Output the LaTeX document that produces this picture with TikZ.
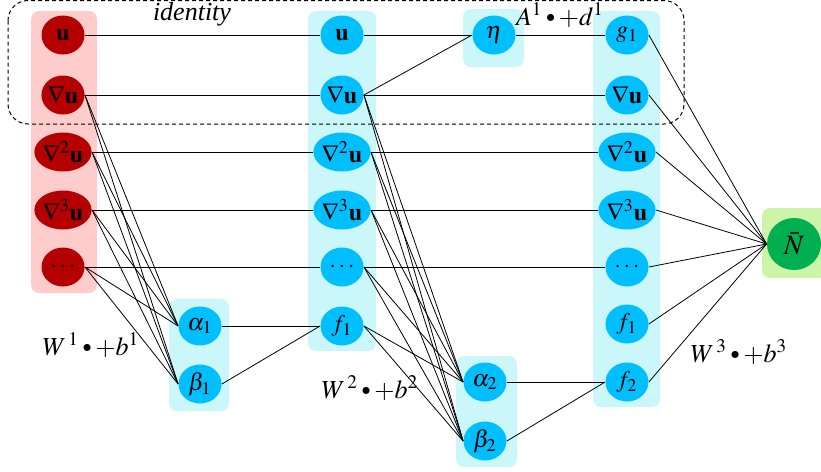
\documentclass[tikz,border=0pt]{standalone}
\usepackage{mathptmx}
\usepackage{graphicx}
\usepackage[no-math]{fontspec}
\setmainfont{Liberation Serif}
\usetikzlibrary{shapes.geometric}
\definecolor{redn}{RGB}{180,0,0}
\definecolor{redbg}{RGB}{255,204,204}
\definecolor{bluen}{RGB}{0,191,255}
\definecolor{bluebg}{RGB}{204,247,250}
\definecolor{greenn}{RGB}{0,176,80}
\definecolor{greenbg}{RGB}{204,245,170}
\newcommand{\smbul}{\mathbin{\vcenter{\hbox{\scalebox{0.7}{$\bullet$}}}}}
\begin{document}
\begin{tikzpicture}[x=0.5pt,y=-0.5pt,
  nd/.style={ellipse, inner sep=0pt, minimum width=21.5pt, minimum height=19.5pt, font=\fontsize{12}{14}\selectfont},
  rn/.style={nd, fill=redn},
  bn/.style={nd, fill=bluen},
  gn/.style={ellipse, inner sep=0pt, minimum width=27pt, minimum height=26pt, fill=greenn, font=\fontsize{14}{16}\selectfont},
  lk/.style={line width=0.4pt, black},
  bgbox/.style={rounded corners=4pt},
  lab/.style={font=\fontsize{13}{15}\selectfont, inner sep=0pt}]
\useasboundingbox (0,0) rectangle (821,472);
% backgrounds
\fill[redbg, bgbox] (31,11) rectangle (97,293);
\fill[bluebg, bgbox] (308,11) rectangle (376,351);
\fill[bluebg, bgbox] (169,299) rectangle (229,411);
\fill[bluebg, bgbox] (463,9) rectangle (524,67);
\fill[bluebg, bgbox] (456,356) rectangle (517,467);
\fill[bluebg, bgbox] (593,11) rectangle (660,407);
\fill[greenbg, bgbox] (762,208) rectangle (828,278);
% dashed identity box
\draw[dashed, dash pattern=on 2pt off 1.5pt, line width=0.5pt, rounded corners=10pt] (8,0.5) rectangle (684,124);
% column 1
\node[rn] (a1) at (63,35) {$\mathbf{u}$};
\node[rn] (a2) at (63,95) {$\nabla\mathbf{u}$};
\node[rn] (a3) at (63,152) {$\nabla^2\mathbf{u}$};
\node[rn] (a4) at (63,210) {$\nabla^3\mathbf{u}$};
\node[rn] (a5) at (63,267) {$\cdots$};
\node[bn] (al1) at (200,326) {$\alpha_1$};
\node[bn] (be1) at (200,384) {$\beta_1$};
% column 2
\node[bn] (b1) at (342,35) {$\mathbf{u}$};
\node[bn] (b2) at (342,95) {$\nabla\mathbf{u}$};
\node[bn] (b3) at (342,152) {$\nabla^2\mathbf{u}$};
\node[bn] (b4) at (342,210) {$\nabla^3\mathbf{u}$};
\node[bn] (b5) at (342,267) {$\cdots$};
\node[bn] (b6) at (342,326) {$f_1$};
\node[bn] (eta) at (494,35) {$\eta$};
\node[bn] (al2) at (485,382) {$\alpha_2$};
\node[bn] (be2) at (485,441) {$\beta_2$};
% column 3
\node[bn] (c1) at (627,35) {$g_1$};
\node[bn] (c2) at (627,95) {$\nabla\mathbf{u}$};
\node[bn] (c3) at (627,152) {$\nabla^2\mathbf{u}$};
\node[bn] (c4) at (627,210) {$\nabla^3\mathbf{u}$};
\node[bn] (c5) at (627,267) {$\cdots$};
\node[bn] (c6) at (627,324) {$f_1$};
\node[bn] (c7) at (627,382) {$f_2$};
\node[gn] (N) at (794,244) {$\bar{N}$};
% labels
\node[lab] (lid) at (192,14) {\textit{identity}};
\node[lab] (lA) at (560,15) {$A^1\smbul{+}d^1$};
\node[lab] (lW1) at (91,345) {$W^{\,1}\smbul{+}b^1$};
\node[lab] (lW2) at (370,388) {$W^{\,2}\smbul{+}b^2$};
\node[lab] (lW3) at (739,352) {$W^{\,3}\smbul{+}b^3$};
% links col1 -> col2
\foreach \i in {1,...,5} {\draw[lk] (a\i.east) -- (b\i.west);}
\foreach \i in {2,...,5} {\draw[lk] (a\i.east) -- (al1.west); \draw[lk] (a\i.east) -- (be1.west);}
\draw[lk] (al1.east) -- (b6.west);
\draw[lk] (be1.east) -- (b6.west);
% col2 -> col3
\draw[lk] (b1.east) -- (eta.west);
\draw[lk] (b2.east) -- (eta.west);
\draw[lk] (eta.east) -- (c1.west);
\foreach \i in {2,...,5} {\draw[lk] (b\i.east) -- (c\i.west);}
\foreach \i in {2,...,6} {\draw[lk] (b\i.east) -- (al2.west); \draw[lk] (b\i.east) -- (be2.west);}
\draw[lk] (al2.east) -- (c7.west);
\draw[lk] (be2.east) -- (c7.west);
% col3 -> N
\foreach \i in {1,...,7} {\draw[lk] (c\i.east) -- (N.west);}
\end{tikzpicture}
\end{document}
